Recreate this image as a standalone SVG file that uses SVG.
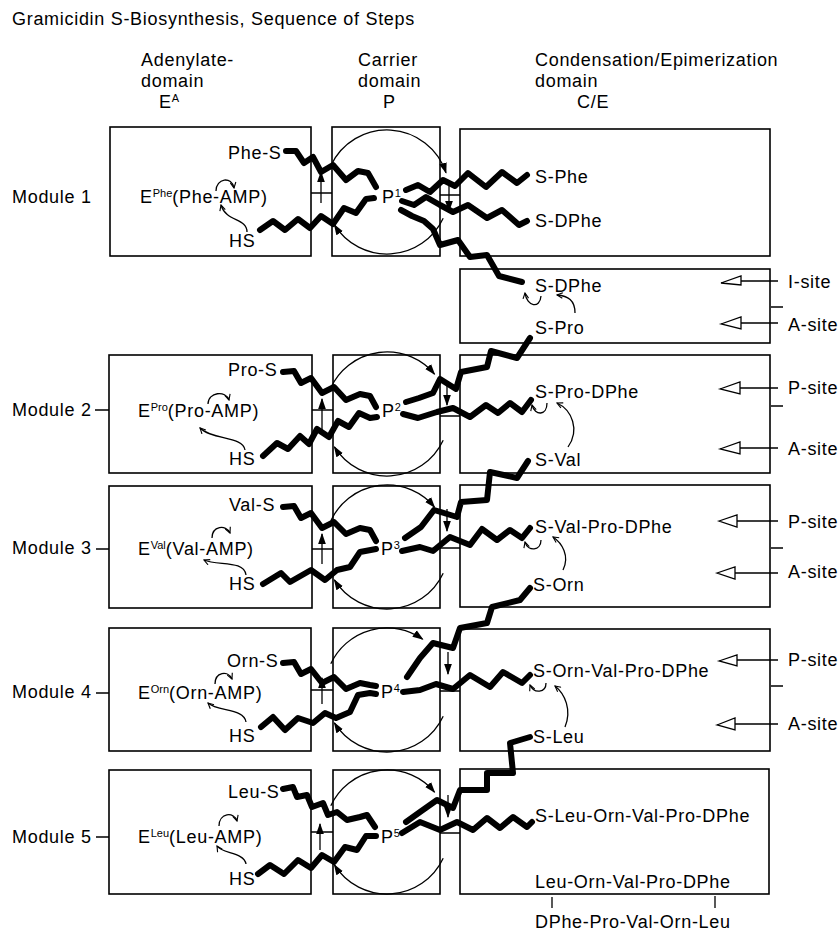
<svg xmlns="http://www.w3.org/2000/svg" width="839" height="932" viewBox="0 0 839 932">
<style>
.t{font-family:"Liberation Sans",Arial,Helvetica,sans-serif;font-size:18px;letter-spacing:0.7px;fill:#000}
.sup{font-size:11px;letter-spacing:0}
.box{fill:none;stroke:#000;stroke-width:1.6}
.thin{fill:none;stroke:#000;stroke-width:1.3}
.chain{fill:none;stroke:#000;stroke-width:6;stroke-linejoin:round;stroke-linecap:round}
.tri{fill:#fff;stroke:#000;stroke-width:1.3}
</style>
<defs>
<marker id="af" viewBox="0 0 10 10" refX="9" refY="5" markerWidth="11" markerHeight="11" markerUnits="userSpaceOnUse" orient="auto"><path d="M0,1.5 L10,5 L0,8.5 Z" fill="#000"/></marker>
<marker id="av" viewBox="0 0 10 10" refX="9" refY="5" markerWidth="7" markerHeight="7" markerUnits="userSpaceOnUse" orient="auto"><path d="M1,1 L9,5 L1,9" fill="none" stroke="#000" stroke-width="1.6"/></marker>
</defs>
<rect width="839" height="932" fill="#fff"/>

<g id="header">
<text class="t" x="12" y="25">Gramicidin S-Biosynthesis, Sequence of Steps</text>
<text class="t" x="141" y="66">Adenylate-</text>
<text class="t" x="141" y="87">domain</text>
<text class="t" x="159" y="108">E<tspan class="sup" dy="-6">A</tspan></text>
<text class="t" x="358" y="66">Carrier</text>
<text class="t" x="358" y="87">domain</text>
<text class="t" x="383" y="108">P</text>
<text class="t" x="535" y="66">Condensation/Epimerization</text>
<text class="t" x="535" y="87">domain</text>
<text class="t" x="577" y="108">C/E</text>
</g>

<g id="module1">
<text class="t" x="12" y="203">Module 1</text>
<rect class="box" x="110" y="127" width="201" height="129"/>
<rect class="box" x="332" y="127" width="108" height="129"/>
<rect class="box" x="460" y="129" width="310" height="127"/>
<text class="t" x="228" y="159">Phe-S</text>
<text class="t" x="140" y="203">E<tspan class="sup" dy="-6">Phe</tspan><tspan dy="6">(Phe-AMP)</tspan></text>
<text class="t" x="229" y="247">HS</text>
<text class="t" x="382" y="203">P<tspan class="sup" dy="-6">1</tspan></text>
<text class="t" x="535" y="183">S-Phe</text>
<text class="t" x="535" y="227">S-DPhe</text>
</g>

<g id="module1-sites">
<rect class="box" x="460" y="269" width="310" height="74"/>
<text class="t" x="535" y="292">S-DPhe</text>
<text class="t" x="535" y="334">S-Pro</text>
<text class="t" x="788" y="288">I-site</text>
<text class="t" x="788" y="331">A-site</text>
<path class="tri" d="M721,283 L741,276 L741,285 Z"/>
<path class="tri" d="M721,324 L741,317 L741,329 Z"/>
<path class="thin" d="M741,281 H778 M741,323 H778 M771,307 H783"/>
</g>

<g id="module2">
<text class="t" x="12" y="416">Module 2</text>
<rect class="box" x="109" y="355" width="203" height="118"/>
<rect class="box" x="333" y="355" width="107" height="118"/>
<rect class="box" x="460" y="355" width="310" height="118"/>
<text class="t" x="228" y="376">Pro-S</text>
<text class="t" x="138" y="417">E<tspan class="sup" dy="-6">Pro</tspan><tspan dy="6">(Pro-AMP)</tspan></text>
<text class="t" x="229" y="465">HS</text>
<text class="t" x="382" y="417">P<tspan class="sup" dy="-6">2</tspan></text>
<text class="t" x="535" y="398">S-Pro-DPhe</text>
<text class="t" x="535" y="466">S-Val</text>
<text class="t" x="788" y="394">P-site</text>
<text class="t" x="788" y="455">A-site</text>
<path class="tri" d="M720,389 L740,382 L740,394 Z"/>
<path class="tri" d="M720,449 L740,442 L740,454 Z"/>
<path class="thin" d="M740,388 H778 M740,448 H778 M771,406 H783 M95,410 H109"/>
</g>

<g id="module3">
<text class="t" x="12" y="554">Module 3</text>
<rect class="box" x="109" y="486" width="203" height="122"/>
<rect class="box" x="333" y="486" width="107" height="122"/>
<rect class="box" x="460" y="485" width="310" height="122"/>
<text class="t" x="229" y="511">Val-S</text>
<text class="t" x="138" y="555">E<tspan class="sup" dy="-6">Val</tspan><tspan dy="6">(Val-AMP)</tspan></text>
<text class="t" x="229" y="590">HS</text>
<text class="t" x="381" y="555">P<tspan class="sup" dy="-6">3</tspan></text>
<text class="t" x="535" y="533">S-Val-Pro-DPhe</text>
<text class="t" x="533" y="591">S-Orn</text>
<text class="t" x="788" y="528">P-site</text>
<text class="t" x="788" y="578">A-site</text>
<path class="tri" d="M719,521 L737,515 L737,527 Z"/>
<path class="tri" d="M717,573 L735,567 L735,579 Z"/>
<path class="thin" d="M737,521 H778 M735,573 H778 M771,548 H783 M96,549 H109"/>
</g>

<g id="module4">
<text class="t" x="12" y="698">Module 4</text>
<rect class="box" x="109" y="628" width="202" height="123"/>
<rect class="box" x="333" y="628" width="107" height="123"/>
<rect class="box" x="460" y="629" width="310" height="122"/>
<text class="t" x="227" y="667">Orn-S</text>
<text class="t" x="138" y="699">E<tspan class="sup" dy="-6">Orn</tspan><tspan dy="6">(Orn-AMP)</tspan></text>
<text class="t" x="229" y="742">HS</text>
<text class="t" x="381" y="698">P<tspan class="sup" dy="-6">4</tspan></text>
<text class="t" x="533" y="677">S-Orn-Val-Pro-DPhe</text>
<text class="t" x="533" y="743">S-Leu</text>
<text class="t" x="788" y="666">P-site</text>
<text class="t" x="788" y="730">A-site</text>
<path class="tri" d="M719,661 L737,655 L737,666 Z"/>
<path class="tri" d="M717,725 L735,718 L735,730 Z"/>
<path class="thin" d="M737,660 H778 M735,724 H778 M771,686 H783 M96,693 H109"/>
</g>

<g id="module5">
<text class="t" x="12" y="843">Module 5</text>
<rect class="box" x="109" y="770" width="202" height="124"/>
<rect class="box" x="333" y="770" width="107" height="124"/>
<rect class="box" x="460" y="769" width="309" height="125"/>
<text class="t" x="228" y="798">Leu-S</text>
<text class="t" x="138" y="843">E<tspan class="sup" dy="-6">Leu</tspan><tspan dy="6">(Leu-AMP)</tspan></text>
<text class="t" x="229" y="885">HS</text>
<text class="t" x="381" y="843">P<tspan class="sup" dy="-6">5</tspan></text>
<text class="t" x="535" y="822">S-Leu-Orn-Val-Pro-DPhe</text>
<text class="t" x="535" y="888">Leu-Orn-Val-Pro-DPhe</text>
<text class="t" x="535" y="928">DPhe-Pro-Val-Orn-Leu</text>
<path class="thin" d="M96,837 H109 M552,897 V908 M715,896 V908"/>
</g>

<g id="connectors">
<path class="thin" d="M311,193 H332 M440,195 H460 M312,410 H333 M440,416 H460 M312,549 H333 M440,548 H460 M311,690 H333 M440,691 H460 M311,832 H333 M440,833 H460"/>
<path class="thin" marker-end="url(#af)" d="M321,203 V172"/>
<path class="thin" marker-end="url(#af)" d="M449,186 V211"/>
<path class="thin" marker-end="url(#af)" d="M322,430 V399"/>
<path class="thin" marker-end="url(#af)" d="M447,384 V405"/>
<path class="thin" marker-end="url(#af)" d="M322,564 V534"/>
<path class="thin" marker-end="url(#af)" d="M447,509 V531"/>
<path class="thin" marker-end="url(#af)" d="M322,704 V678"/>
<path class="thin" marker-end="url(#af)" d="M448,652 V674"/>
<path class="thin" marker-end="url(#af)" d="M320,850 V824"/>
<path class="thin" marker-end="url(#af)" d="M448,795 V817"/>
<path class="thin" marker-end="url(#af)" d="M330.8,165.8 A62,62 0 0 1 446,172.8"/>
<path class="thin" marker-end="url(#af)" d="M443.2,218.2 A62,62 0 0 1 334.4,224.9"/>
<path class="thin" marker-end="url(#af)" d="M330.8,387.8 A62,62 0 0 1 434.5,374.1"/>
<path class="thin" marker-end="url(#af)" d="M443.2,440.2 A62,62 0 0 1 334.4,446.9"/>
<path class="thin" marker-end="url(#af)" d="M330.8,520.8 A62,62 0 0 1 434.5,507.1"/>
<path class="thin" marker-end="url(#af)" d="M443.2,573.2 A62,62 0 0 1 334.4,579.9"/>
<path class="thin" marker-end="url(#af)" d="M330.8,663.8 A62,62 0 0 1 422.6,639.2"/>
<path class="thin" marker-end="url(#af)" d="M443.2,716.2 A62,62 0 0 1 334.4,722.9"/>
<path class="thin" marker-end="url(#af)" d="M330.8,805.8 A62,62 0 0 1 434.5,792.1"/>
<path class="thin" marker-end="url(#af)" d="M443.2,858.2 A62,62 0 0 1 334.4,864.9"/>
<path class="thin" marker-end="url(#av)" d="M216,191 C216,178 232,176 234,188"/>
<path class="thin" marker-end="url(#av)" d="M247,232 C247,218 226,222 221,205"/>
<path class="thin" marker-end="url(#av)" d="M208,404 C208,392 226,390 229,400"/>
<path class="thin" marker-end="url(#av)" d="M245,450 C243,436 212,440 200,428"/>
<path class="thin" marker-end="url(#av)" d="M212,538 C212,526 226,524 230,533"/>
<path class="thin" marker-end="url(#av)" d="M246,575 C244,560 218,566 204,560"/>
<path class="thin" marker-end="url(#av)" d="M215,684 C215,672 228,670 232,679"/>
<path class="thin" marker-end="url(#av)" d="M246,722 C244,708 218,712 208,703"/>
<path class="thin" marker-end="url(#av)" d="M219,826 C219,813 234,811 237,821"/>
<path class="thin" marker-end="url(#av)" d="M246,864 C244,852 222,854 217,846"/>
<path class="thin" marker-end="url(#av)" d="M541,296 C540,309 527,307 525,293"/>
<path class="thin" marker-end="url(#av)" d="M575,313 C575,300 568,296 557,295"/>
<path class="thin" marker-end="url(#av)" d="M547,403 C547,416 535,416 532,405"/>
<path class="thin" marker-end="url(#av)" d="M568,447 C580,430 572,410 557,403"/>
<path class="thin" marker-end="url(#av)" d="M541,540 C541,551 528,552 525,542"/>
<path class="thin" marker-end="url(#av)" d="M563,570 C570,556 562,543 553,537"/>
<path class="thin" marker-end="url(#av)" d="M546,683 C546,693 534,694 530,685"/>
<path class="thin" marker-end="url(#av)" d="M565,727 C572,710 565,694 555,686"/>
<polyline class="chain" points="286,151 296,151 304,163 313,157 321,172 333,165 346,180 358,171 368,173 376,187"/>
<polyline class="chain" points="260,230 273,221 285,230 298,219 310,228 321,216 333,224 344,208 356,213 366,199 374,198"/>
<polyline class="chain" points="406,190 418,185 430,192 443,180 455,186 468,173 486,187 502,172 517,183 527,175"/>
<polyline class="chain" points="402,201 414,205 426,197 440,205 453,212 468,205 487,218 502,210 519,225 527,221"/>
<polyline class="chain" points="401,210 412,216 424,221 433,229 440,245 458,240 470,257 487,255 499,276 522,282"/>
<polyline class="chain" points="283,372 294,371 301,383 311,378 322,393 334,387 346,400 360,394 370,396 376,407"/>
<polyline class="chain" points="263,456 277,443 288,449 300,436 309,444 317,429 329,437 338,421 349,427 359,413 370,418 377,417"/>
<polyline class="chain" points="403,414 418,418 437,412 453,408 470,417 486,405 498,413 510,403 522,412 531,400"/>
<polyline class="chain" points="530,338 517,358 491,351 487,367 461,372 456,389 440,379 433,393 419,398 406,402"/>
<polyline class="chain" points="283,507 294,506 301,518 311,513 322,528 334,522 346,534 360,528 370,530 376,541"/>
<polyline class="chain" points="263,584 281,573 290,582 311,570 325,580 337,570 350,567 360,552 376,549"/>
<polyline class="chain" points="402,551 420,547 433,551 450,537 470,545 482,529 497,540 510,530 522,538 530,528"/>
<polyline class="chain" points="528,461 517,478 490,472 487,500 461,502 457,517 434,510 421,527 405,538"/>
<polyline class="chain" points="283,663 294,662 301,674 311,669 322,683 334,677 346,689 360,683 370,685 376,686"/>
<polyline class="chain" points="261,727 273,717 285,730 298,718 313,723 325,713 336,718 350,712 358,695 370,693 376,694"/>
<polyline class="chain" points="403,692 420,690 436,684 453,689 470,675 490,687 503,672 522,683 530,675"/>
<polyline class="chain" points="530,588 520,600 492,607 487,623 460,628 453,648 433,643 420,658 407,677"/>
<polyline class="chain" points="283,789 293,787 297,797 307,795 312,807 323,803 328,815 337,812 347,820 360,817 367,815 375,827"/>
<polyline class="chain" points="258,874 270,865 284,874 298,860 311,868 322,855 334,862 345,847 357,850 366,836 376,836"/>
<polyline class="chain" points="402,833 420,822 440,830 457,822 473,830 487,818 500,828 513,817 527,827 532,822"/>
<polyline class="chain" points="530,737 510,743 513,773 487,773 487,790 460,790 453,808 437,800 420,812 406,822"/>
</g>
</svg>
